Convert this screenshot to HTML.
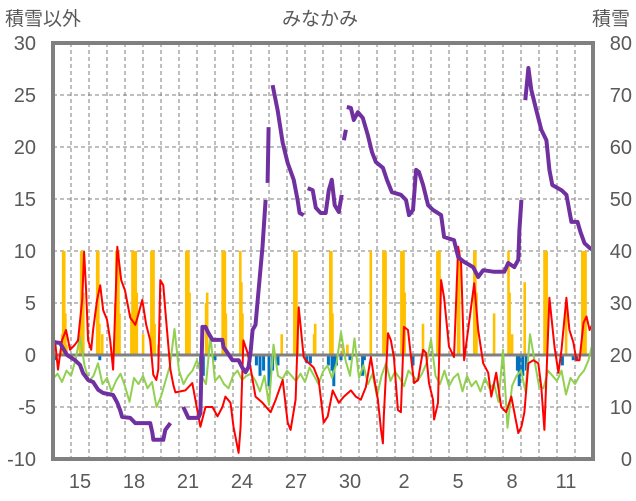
<!DOCTYPE html>
<html><head><meta charset="utf-8"><style>
html,body{margin:0;padding:0;background:#fff;}
svg{display:block;font-family:"Liberation Sans","Noto Sans CJK JP",sans-serif;}
</style></head><body>
<svg id="chart" width="636" height="501" viewBox="0 0 636 501" xmlns="http://www.w3.org/2000/svg">
<text x="5" y="25" font-size="19" fill="#595959">積雪以外</text>
<text x="320" y="25" font-size="19" fill="#595959" text-anchor="middle">みなかみ</text>
<text x="630" y="25" font-size="19" fill="#595959" text-anchor="end">積雪</text>
<g id="grid"></g><g id="bars"></g><g id="lines"></g><g id="axes"></g>
</svg>
<script>
const leftTicks=[30,25,20,15,10,5,0,-5,-10];
const rightTicks=[80,70,60,50,40,30,20,10,0];
const dayLabels=["15","18","21","24","27","30","2","5","8","11"];
const dayLabelPos=[1,4,7,10,13,16,19,22,25,28];
const precipDays=[0.5,0.56,0.62,0.68,0.74,1.5,1.56,1.62,1.68,2.45,2.51,2.57,2.73,3.45,3.51,3.57,3.63,3.69,4.35,4.41,4.47,4.53,4.59,4.65,5.0,5.46,5.52,5.58,5.64,5.85,7.4,7.46,7.52,7.58,8.5,8.56,9.42,9.48,9.54,9.6,10.4,10.46,10.52,12.7,13.4,13.46,13.52,13.58,14.5,14.56,15.4,15.46,15.52,16.1,16.35,17.65,18.35,18.41,18.47,19.35,19.41,19.47,19.53,20.55,21.35,21.41,21.47,22.5,22.56,23.4,23.46,23.52,24.5,25.3,25.36,25.5,26.2,27.3,27.36,27.42,28.5,29.4,29.46,29.52,29.58];
const precipVals=[2,10,10,4,1,3,10,10,6,10,10,3,2,5,10,10,10,4,4,10,10,10,10,6,2,10,10,10,3,1,10,10,10,6,5,6,10,10,10,4,10,7,4,2,10,10,10,4,2,3,10,10,4,1,1,10,10,4,10,10,10,10,6,3,10,10,10,10,10,10,10,6,4,10,6,2,7,10,10,10,5,10,10,10,10];
const negDays=[0.1,2.6,6.5,8.2,8.35,9.0,11.3,11.5,11.7,12.0,12.2,12.5,14.1,14.3,15.3,15.5,15.6,15.75,16.0,16.5,17.2,17.3,20.0,25.0,25.8,25.9,26.1,26.3,28.3,28.9,29.1];
const negVals=[-0.5,-0.5,-0.5,-1.5,-2,-0.5,-1,-2,-1.5,-3,-1.5,-1,-0.8,-0.8,-1,-1.5,-3,-1,-0.5,-0.5,-2,-0.5,-1,-0.5,-1.5,-3,-2,-1.5,-1,-0.5,-0.5];
const redDays=[0.11,0.28,0.5,0.72,0.95,1.22,1.39,1.62,1.73,1.84,1.95,2.12,2.23,2.45,2.62,2.79,3.0,3.18,3.34,3.45,3.57,3.79,4.0,4.29,4.57,4.68,4.96,5.18,5.4,5.57,5.74,5.85,5.96,6.13,6.24,6.52,6.69,6.8,7.35,7.74,8.19,8.47,8.86,9.14,9.41,9.58,9.86,10.03,10.31,10.42,10.58,10.81,10.97,11.25,11.64,12.09,12.37,12.76,13.04,13.2,13.48,13.65,13.93,14.04,14.48,14.76,15.04,15.26,15.54,15.88,16.16,16.55,16.82,17.1,17.38,17.66,17.83,18.05,18.22,18.33,18.38,18.61,18.77,18.94,19.16,19.33,19.5,19.72,19.89,20.06,20.28,20.56,20.72,20.89,21.11,21.17,21.39,21.56,21.73,22.0,22.28,22.51,22.67,22.84,23.06,23.4,23.62,23.9,24.18,24.35,24.62,24.9,25.18,25.46,25.85,26.02,26.19,26.41,26.69,26.96,27.13,27.3,27.58,27.86,28.08,28.25,28.52,28.69,28.91,29.08,29.25,29.47,29.64,29.81,30.0];
const redVals=[1.4,-1.4,1.4,2.4,0.5,1.0,1.4,5.3,9.9,6.2,1.4,0.5,2.4,5.3,6.7,4.3,3.4,1.4,-1.4,4,10.4,7.2,6.2,3.6,2.9,3.5,5.3,2.9,1.4,-1.9,-2.4,-1.4,7.2,6.7,4.3,-1.4,-2.9,-3.6,-3.4,-2.7,-6.9,-5.0,-5.0,-5.9,-5.0,-4.0,-4.6,-6.9,-9.4,-6.9,1.4,0.2,-1.2,-4.0,-4.6,-5.5,-4.3,-2.4,-6.5,-7.2,-4.3,4.6,-0.2,-0.5,-1.2,-2.4,-6.5,-5.9,-3.4,-4.6,-4.0,-3.4,-4.0,-4.3,-3.1,-0.2,-2.1,-4.3,-7.2,-8.5,-5.9,2.1,1.4,-0.2,-5.3,-5.5,2.7,2.4,-0.2,-2.7,-2.4,0.5,0.2,-2.7,-4.3,-6.2,-4.6,7.2,5.5,0.8,-0.2,10.4,8.8,-0.5,2.4,6.9,2.4,-0.8,-1.7,-4.0,-1.7,-5.0,-5.5,-4.0,-7.5,-6.9,-5.5,-0.8,-0.5,-0.8,-3.1,-7.2,5.5,0.8,-1.7,0.5,5.5,2.4,1.2,-0.5,-0.5,3.1,3.7,2.4,3.1];
const greenVals=[-2.3,-1.8,-2.6,-1.5,-2.0,-0.5,1.8,-1.0,-2.5,-2.0,-0.8,-2.8,-2.2,-3.5,-2.5,-1.8,-3.0,-4.5,-2.2,-2.8,-2.0,-3.2,-2.6,-5.0,-4.0,-2.5,-1.0,2.5,-1.5,-2.8,-2.0,-1.5,-0.5,-2.0,-2.8,1.8,-2.5,-2.0,-2.8,-3.2,-2.0,-1.5,-2.4,-2.0,-1.8,-2.5,-3.5,-2.0,-4.8,1.0,-2.0,-2.3,-1.5,-2.0,-2.5,-1.8,-2.6,-1.2,-2.0,-2.8,-1.6,-1.0,-2.2,-0.8,2.2,-0.5,-2.0,1.6,-2.2,-1.0,-2.8,-1.8,-4.0,-2.0,-0.8,-2.5,-1.6,-2.2,-3.0,-1.5,-2.0,-2.5,-1.8,-0.8,1.5,-2.0,-2.8,-1.5,-3.0,-2.2,-1.8,-3.5,-2.0,-3.0,-2.5,-3.5,-2.2,-3.2,-2.8,-4.5,0.5,-7.0,-3.0,-2.0,-1.5,-3.5,2.0,-0.5,-3.0,-3.2,-1.5,-2.0,-2.5,-1.5,-3.8,-2.2,-2.8,-2.0,-1.5,-0.5,1.3];
const greenStep=0.25;
const snowDays=[0,0.39,0.78,1.22,1.5,1.67,1.95,2.23,2.51,2.79,3.34,3.57,3.73,3.84,4.29,4.57,5.4,5.52,5.57,6.13,6.24,6.52,null,7.24,7.52,8.08,8.19,8.3,8.47,8.64,8.86,9.41,9.47,9.58,9.97,10.31,10.53,10.7,10.86,10.97,11.09,11.25,11.42,11.64,11.81,null,11.92,11.98,null,12.2,12.48,12.76,13.04,13.37,13.59,13.7,13.93,null,14.15,14.43,14.6,14.87,15.15,15.32,15.49,15.65,15.88,16.04,null,16.16,16.27,null,16.32,16.55,16.71,16.94,17.21,17.49,17.72,17.94,18.33,18.55,18.83,19.33,19.61,19.78,20,20.17,20.33,20.56,20.84,21.11,21.56,21.73,22.28,22.51,22.84,23.34,23.62,23.9,24.51,25.07,25.29,25.63,25.85,25.91,26.02,null,26.24,26.41,26.57,26.85,27.13,27.41,27.58,27.74,28.25,28.52,28.8,29.14,29.3,29.53,29.81,30];
const snowVals=[22.5,22.3,20,19,18.1,16.5,15.2,14.8,13.3,12.7,12.3,10.8,9.4,8.1,7.9,6.9,6.9,5,3.7,3.7,5.6,6.9,null,10,7.9,7.9,8.8,25.4,25.4,24.2,22.9,22.9,21.5,21,19,19,17.5,16.7,17.7,20.4,24.8,25.8,32.5,40.8,49.8,null,53.1,63.8,null,71.9,67.1,60.8,56.9,53.7,49.8,47.3,46.9,null,52.1,51.7,48.3,47.3,47.3,51.7,53.7,48.8,47.5,50.8,null,61.3,63.3,null,67.7,67.5,65.2,66.7,65.6,62.3,59,57.1,56,53.7,51.3,50.8,49.8,46.9,47.9,55.6,55.2,52.7,48.8,47.9,46.9,42.7,42.1,38.8,37.9,36.9,35,36.3,36,36,37.7,36.9,38.3,44,49.8,null,69,75.2,71,67.1,63.3,61.3,55.6,52.7,51.7,50.8,45.6,45.6,43.7,41.5,40.6,40.2];

const X0=53,X1=593,YT=43,YB=459,NDAYS=30;
const xs=d=>X0+(X1-X0)*d/NDAYS;
const yL=v=>YB-(v+10)/40*(YB-YT);
const yR=v=>YB-v/80*(YB-YT);
const NS='http://www.w3.org/2000/svg';
function mk(parent,tag,attrs){const e=document.createElementNS(NS,tag);for(const k in attrs)e.setAttribute(k,attrs[k]);document.getElementById(parent).appendChild(e);return e;}
for(let i=1;i<NDAYS;i++){const g=mk('grid','line',{x1:xs(i),x2:xs(i),y1:YT,y2:YB,stroke:'#7f7f7f','stroke-width':1,'stroke-dasharray':'4,3'});

}
leftTicks.forEach(t=>{if(t===30||t===-10||t===0)return;const g=mk('grid','line',{x1:X0,x2:X1,y1:yL(t),y2:yL(t),stroke:'#7f7f7f','stroke-width':1,'stroke-dasharray':'4,3'});

});
precipDays.forEach((d,i)=>{const v=precipVals[i];const b=mk('bars','rect',{x:xs(d)-1.2,y:yL(v),width:2.6,height:yL(0)-yL(v),fill:'#ffc000'});

});
negDays.forEach((d,i)=>{const v=negVals[i];const b=mk('bars','rect',{x:xs(d)-1.5,y:yL(0),width:3,height:yL(v)-yL(0),fill:'#0070c0'});

});
const z=mk('bars','line',{x1:X0,x2:X1,y1:yL(0),y2:yL(0),stroke:'#808080','stroke-width':3});


function pathFrom(days,vals,yf){let d='',pen=false;for(let i=0;i<days.length;i++){if(days[i]===null||vals[i]===null){pen=false;continue;}d+=(pen?'L':'M')+xs(days[i]).toFixed(1)+','+yf(vals[i]).toFixed(1);pen=true;}return d;}
const gDays=greenVals.map((v,i)=>i*greenStep);
const gl=mk('lines','path',{d:pathFrom(gDays,greenVals,yL),fill:'none',stroke:'#92d050','stroke-width':2,'stroke-linejoin':'round'});


const rl=mk('lines','path',{d:pathFrom(redDays,redVals,yL),fill:'none',stroke:'#ff0000','stroke-width':2,'stroke-linejoin':'round'});


const sl=mk('lines','path',{d:pathFrom(snowDays,snowVals,yR),fill:'none',stroke:'#7030a0','stroke-width':4,'stroke-linejoin':'round'});


const fr=mk('axes','rect',{x:X0,y:YT,width:X1-X0,height:YB-YT,fill:'none',stroke:'#808080','stroke-width':4});


leftTicks.forEach(t=>{const e=mk('axes','text',{x:36,y:yL(t)+7,'font-size':20,fill:'#595959','text-anchor':'end'});e.textContent=t;

});
rightTicks.forEach(t=>{const e=mk('axes','text',{x:632,y:yR(t)+7,'font-size':20,fill:'#595959','text-anchor':'end'});e.textContent=t;

});
dayLabels.forEach((t,i)=>{const e=mk('axes','text',{x:xs(dayLabelPos[i]+0.5),y:488,'font-size':20,fill:'#595959','text-anchor':'middle'});e.textContent=t;

});
</script>
</body></html>
